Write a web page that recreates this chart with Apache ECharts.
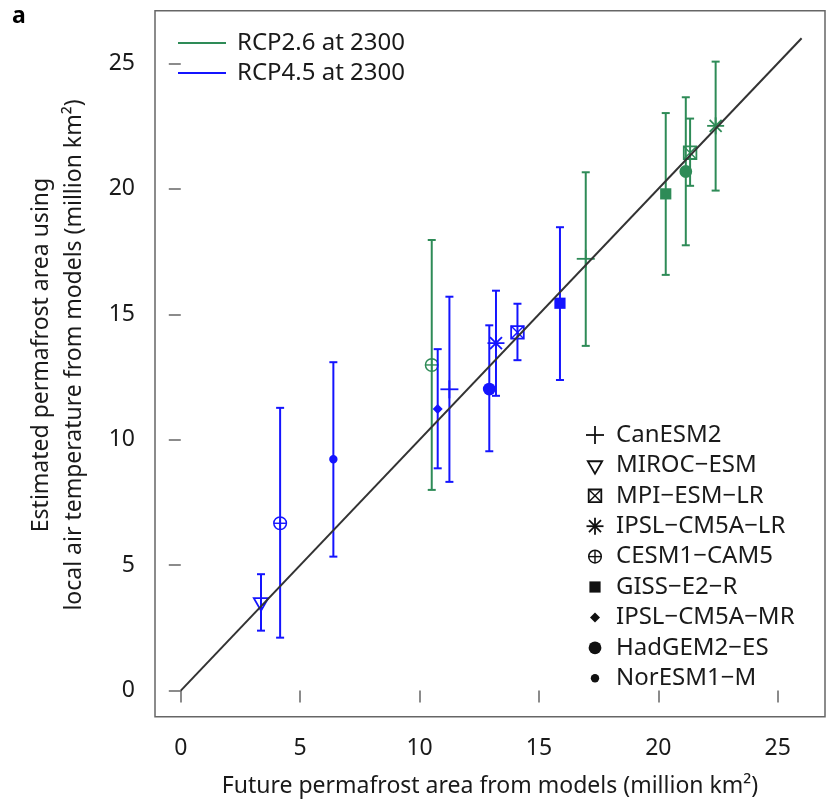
<!DOCTYPE html>
<html>
<head>
<meta charset="utf-8">
<script src="https://cdn.jsdelivr.net/npm/echarts@6/dist/echarts.min.js"></script>
<style>html,body{margin:0;padding:0;background:#fff;}#chart{width:827px;height:802px;}</style>
</head>
<body>
<div id="chart"></div>
<script>
// ---------------- data ----------------
const models = ['CanESM2','MIROC\u2212ESM','MPI\u2212ESM\u2212LR','IPSL\u2212CM5A\u2212LR','CESM1\u2212CAM5','GISS\u2212E2\u2212R','IPSL\u2212CM5A\u2212MR','HadGEM2\u2212ES','NorESM1\u2212M'];

// RCP2.6 at 2300 (indices into models)
const rcp26Model = [0, 2, 3, 4, 5, 7];
const rcp26X  = [16.96, 21.33, 22.40, 10.51, 20.31, 21.15];
const rcp26Y  = [17.21, 21.44, 22.51, 12.98, 19.80, 20.69];
const rcp26Lo = [13.74, 20.12, 19.93,  8.00, 16.57, 17.75];
const rcp26Hi = [20.66, 22.80, 25.07, 17.96, 23.02, 23.65];

// RCP4.5 at 2300
const rcp45Model = [0, 1, 2, 3, 4, 5, 6, 7, 8];
const rcp45X  = [11.25, 3.36, 14.10, 13.20, 4.16, 15.88, 10.76, 12.92, 6.39];
const rcp45Y  = [12.01, 3.52, 14.28, 13.85, 6.67, 15.44, 11.22, 12.02, 9.22];
const rcp45Lo = [ 8.32, 2.39, 13.17, 11.75, 2.11, 12.38,  8.86,  9.54, 5.34];
const rcp45Hi = [15.70, 4.64, 15.42, 15.94, 11.27, 18.47, 13.61, 14.56, 13.09];

const oneToOne = [0, 26];
const tickValues = [0, 5, 10, 15, 20, 25];

// ---------------- styling ----------------
const markerKinds = ['plus','triangle','boxx','asterisk','circleplus','square','diamond','bigdot','dot'];
const GREEN = '#2E8B57';
const BLUE = '#1414FF';
const FONT = '"Noto Sans", "Open Sans", sans-serif';
const TXT = '#1a1a1a';

function ln(x1,y1,x2,y2,color,w){
  return {type:'line', shape:{x1:x1,y1:y1,x2:x2,y2:y2}, style:{stroke:color, lineWidth:w||1.8}};
}
function markerEls(kind, cx, cy, color){
  const w = 1.8;
  switch(kind){
    case 'plus':
      return [ln(cx-9,cy,cx+9,cy,color,w), ln(cx,cy-9,cx,cy+9,color,w)];
    case 'triangle': {
      const r = 8.3, h = r*Math.cos(Math.PI/6);
      return [{type:'polygon', shape:{points:[[cx-h,cy-r/2],[cx+h,cy-r/2],[cx,cy+r]]}, style:{stroke:color, fill:null, lineWidth:w}}];
    }
    case 'boxx': {
      const a = 6.3;
      return [{type:'rect', shape:{x:cx-a,y:cy-a,width:2*a,height:2*a}, style:{stroke:color, fill:null, lineWidth:w}},
              ln(cx-a,cy-a,cx+a,cy+a,color,1.4), ln(cx-a,cy+a,cx+a,cy-a,color,1.4)];
    }
    case 'asterisk': {
      const a = 8.5, d = 6;
      return [ln(cx-a,cy,cx+a,cy,color,w), ln(cx,cy-a,cx,cy+a,color,w),
              ln(cx-d,cy-d,cx+d,cy+d,color,w), ln(cx-d,cy+d,cx+d,cy-d,color,w)];
    }
    case 'circleplus': {
      const r = 6.3;
      return [{type:'circle', shape:{cx:cx,cy:cy,r:r}, style:{stroke:color, fill:null, lineWidth:1.5}},
              ln(cx-r,cy,cx+r,cy,color,1.4), ln(cx,cy-r,cx,cy+r,color,1.4)];
    }
    case 'square': {
      const a = 5.6;
      return [{type:'rect', shape:{x:cx-a,y:cy-a,width:2*a,height:2*a}, style:{fill:color}}];
    }
    case 'diamond': {
      const a = 5;
      return [{type:'polygon', shape:{points:[[cx,cy-a],[cx+a,cy],[cx,cy+a],[cx-a,cy]]}, style:{fill:color}}];
    }
    case 'bigdot':
      return [{type:'circle', shape:{cx:cx,cy:cy,r:6.4}, style:{fill:color}}];
    case 'dot':
      return [{type:'circle', shape:{cx:cx,cy:cy,r:4.2}, style:{fill:color}}];
  }
  return [];
}

function buildRows(mi, xs, ys, lo, hi){
  return mi.map((m,i)=>[xs[i], ys[i], lo[i], hi[i], m]);
}

function renderErr(params, api){
  const x = api.value(0), y = api.value(1), lo = api.value(2), hi = api.value(3), m = api.value(4);
  const color = api.visual('color');
  const p = api.coord([x,y]);
  const pl = api.coord([x,lo]);
  const ph = api.coord([x,hi]);
  const cap = 4;
  const children = [
    ln(pl[0],pl[1],ph[0],ph[1],color,2),
    ln(pl[0]-cap,pl[1],pl[0]+cap,pl[1],color,2),
    ln(ph[0]-cap,ph[1],ph[0]+cap,ph[1],color,2)
  ].concat(markerEls(markerKinds[m], p[0], p[1], color));
  return {type:'group', children:children};
}

// model legend (symbols + names)
const legendEls = [];
models.forEach((name,i)=>{
  const cy = 435 + i*30.4;
  markerEls(markerKinds[i], 595, cy, '#111').forEach(e=>legendEls.push(e));
  legendEls.push({type:'text', x:616, y:cy, style:{text:name, fill:TXT, font:'24px '+FONT, align:'left', verticalAlign:'middle'}});
});

const chart = echarts.init(document.getElementById('chart'), null, {renderer:'canvas'});
chart.setOption({
  animation:false,
  backgroundColor:'#fff',
  grid:{left:155, right:2, top:10.7, bottom:85.3, show:true, borderColor:'#666', borderWidth:1.5, backgroundColor:'transparent'},
  xAxis:{
    type:'value', min:-1.08, max:26.98,
    axisLine:{show:false},
    splitLine:{show:false},
    axisTick:{show:true, inside:false, length:12, lineStyle:{color:'#666', width:1.5}, customValues:tickValues},
    axisLabel:{margin:20, fontSize:23, fontFamily:FONT, color:TXT, customValues:tickValues}
  },
  yAxis:{
    type:'value', min:-1.04, max:27.1,
    axisLine:{show:false},
    splitLine:{show:false},
    axisTick:{show:true, inside:false, length:12, lineStyle:{color:'#666', width:1.5}, customValues:tickValues},
    axisLabel:{margin:20, fontSize:23, fontFamily:FONT, color:TXT, customValues:tickValues}
  },
  legend:{
    data:[{name:'RCP2.6 at 2300', icon:'rect'},{name:'RCP4.5 at 2300', icon:'rect'}],
    orient:'vertical', left:178, top:31, itemWidth:48, itemHeight:2, itemGap:6, padding:0,
    textStyle:{fontSize:24, lineHeight:23, fontFamily:FONT, color:TXT, padding:[0,0,0,6]}
  },
  series:[
    {name:'1:1', type:'line', data:[[oneToOne[0],oneToOne[0]],[oneToOne[1],oneToOne[1]]], showSymbol:false, symbol:'none',
     lineStyle:{color:'#333', width:2}, z:5, silent:true},
    {name:'RCP2.6 at 2300', type:'custom', color:GREEN, itemStyle:{color:GREEN}, renderItem:renderErr,
     data:buildRows(rcp26Model, rcp26X, rcp26Y, rcp26Lo, rcp26Hi), encode:{x:0, y:[1,2,3]}, z:3},
    {name:'RCP4.5 at 2300', type:'custom', color:BLUE, itemStyle:{color:BLUE}, renderItem:renderErr,
     data:buildRows(rcp45Model, rcp45X, rcp45Y, rcp45Lo, rcp45Hi), encode:{x:0, y:[1,2,3]}, z:4}
  ],
  graphic:[
    {type:'text', x:12, y:5, style:{text:'a', fill:'#000', font:'bold 23px '+FONT, align:'left', verticalAlign:'top'}},
    {type:'text', x:490, y:786, style:{text:'Future permafrost area from models (million km\u00B2)', fill:TXT, font:'23px '+FONT, align:'center', verticalAlign:'middle'}},
    {type:'text', x:58, y:355, rotation:Math.PI/2, style:{text:'Estimated permafrost area using\nlocal air temperature from models (million km\u00B2)', fill:TXT, font:'23px '+FONT, lineHeight:33, align:'center', verticalAlign:'middle'}},
    {type:'group', children:legendEls}
  ]
});
</script>
</body>
</html>
